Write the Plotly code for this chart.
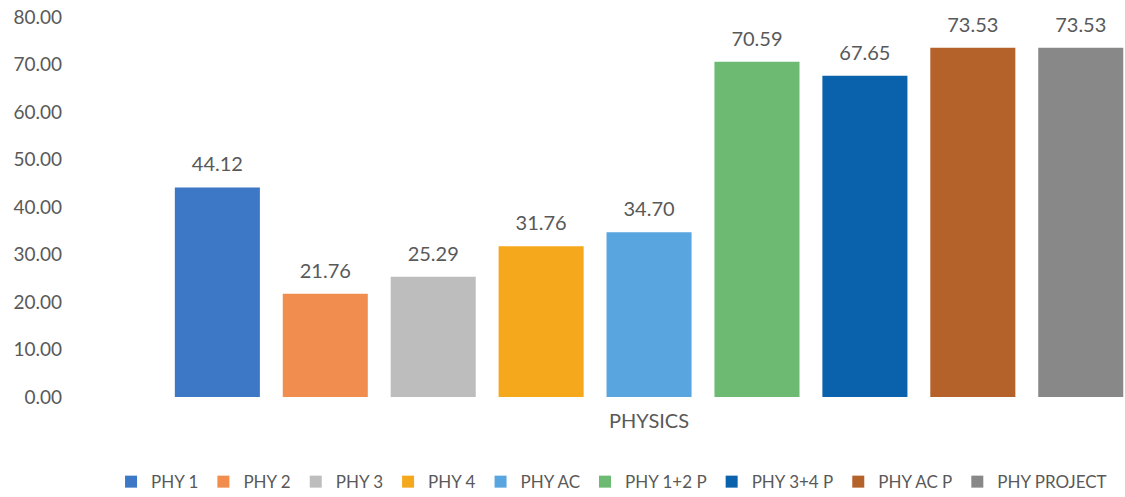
import plotly.graph_objects as go

# ── Data ──────────────────────────────────────────────────────────────────────
CATEGORY = ["PHYSICS"]
SERIES = [
    "PHY 1", "PHY 2", "PHY 3", "PHY 4", "PHY AC",
    "PHY 1+2 P", "PHY 3+4 P", "PHY AC P", "PHY PROJECT",
]
VALUES = [44.12, 21.76, 25.29, 31.76, 34.70, 70.59, 67.65, 73.53, 73.53]
COLORS = [
    "#3D78C6", "#F08D4F", "#BDBDBD", "#F5A81B", "#59A5DF",
    "#6DBA72", "#0B62AC", "#B4622A", "#888888",
]
Y_TICKS = [0, 10, 20, 30, 40, 50, 60, 70, 80]

FONT = "Lato, 'Open Sans', sans-serif"
TEXT_GREY = "#595959"

# a wide invisible spacer on each side lifts the value label a bit off the bar
PAD = "<span style='font-size:60px'>\u00a0</span>"

fig = go.Figure()

for name, val, color in zip(SERIES, VALUES, COLORS):
    fig.add_trace(
        go.Bar(
            x=CATEGORY,
            y=[val],
            name=name,
            marker={"color": color, "line": {"width": 0}},
            texttemplate=PAD + "%{y:.2f}" + PAD,
            textposition="outside",
            textfont={"family": FONT, "size": 20, "color": TEXT_GREY},
            constraintext="none",
            cliponaxis=False,
        )
    )

fig.update_layout(
    width=1125,
    height=497,
    margin={"t": 17, "b": 100, "l": 75, "r": 0},
    paper_bgcolor="white",
    plot_bgcolor="white",
    barmode="group",
    bargap=0,
    bargroupgap=0.212,
    font={"family": FONT, "color": TEXT_GREY},
    legend={
        "orientation": "h",
        "xanchor": "center",
        "x": 0.511,
        "yref": "container",
        "yanchor": "middle",
        "y": 0.03,
        "font": {"size": 17, "color": TEXT_GREY},
        "itemwidth": 30,
    },
    xaxis={
        "type": "category",
        "range": [-0.591, 0.49],
        "showgrid": False,
        "showline": False,
        "zeroline": False,
        "ticks": "",
        "ticklabelstandoff": 10,
        "tickfont": {"size": 20, "color": TEXT_GREY},
    },
    yaxis={
        "range": [0, 80],
        "tickvals": Y_TICKS,
        "tickformat": ".2f",
        "showgrid": False,
        "showline": False,
        "zeroline": False,
        "ticks": "",
        "ticklabelstandoff": 12,
        "tickfont": {"size": 19, "color": TEXT_GREY},
    },
)

# the page body has a default 8px margin; drop it so the figure sits at 0,0
fig.write_html(
    "out.html",
    config={"displayModeBar": False},
    post_script="document.body.style.margin = '0';",
)
